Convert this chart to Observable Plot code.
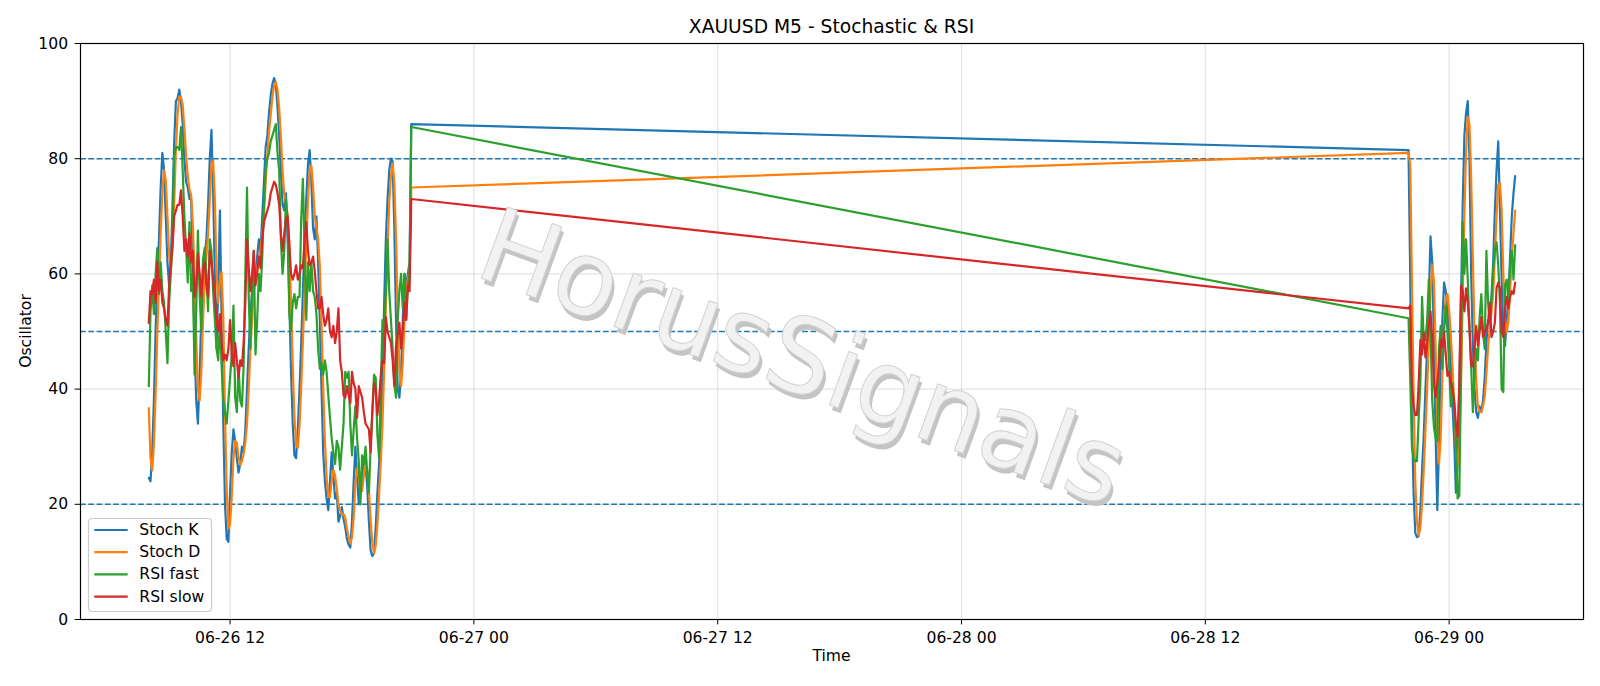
<!DOCTYPE html>
<html>
<head>
<meta charset="utf-8">
<script src="https://cdn.jsdelivr.net/npm/d3@7"></script>
<script src="https://cdn.jsdelivr.net/npm/@observablehq/plot@0.6"></script>
<style>
  html, body { margin: 0; padding: 0; background: #fff; }
  #chart { width: 1600px; height: 686px; }
</style>
</head>
<body>
<div id="chart"></div>
<script>
// ---------------- data ----------------
const sessionStarts = ["2020-06-26T08:00:00Z", "2020-06-28T22:00:00Z"];
const barMinutes = 5;

const stochK_fri = [24.6,24,29,38,50,60,66,75,81,78, 70,62,58,62,72,83,90,90.5,92,90,
 86,80,76,75,73,73,60,48,38,34, 42,53,60,63,66,72,80,85,74,60,
 47,58,71,52,34,20,14,13.5,22,29, 33,31,28,25.5,27,30,29,33,40,47,
 53,57,61,59,63,66,64,70,76,82, 84,88,91,93,94,93,89,84,78,72,
 71,74,66,55,43,34,28.5,28,33,40, 48,57,66,73,79,81.5,76,68,66,70,
 62,52,40,29,24,21,19,24,29,25, 21,22,17,18,19.5,17.5,16,14,13,12.5,
 17,24,30,25,20,22,25,28,27,23, 17,12,11,11.5,16,22,27,33,42,55,
 66,73,78,80,79.5,68,52,40,38.5,43, 52,60,58,60,62,86];
const stochD_fri = [36.7,28,25.9,30.3,39,49.3,58.7,67,74,78, 76.3,70,63.3,60.7,64,72.3,81.7,87.8,90.8,90.8,
 89.3,85.3,80.7,77,74.7,73.7,68.7,60.3,48.7,40, 38,43,51.7,58.7,63,67,72.7,79,79.7,73,
 60.3,55,58.7,60.3,52.3,35.3,22.7,15.8,16.5,21.5, 28,31,30.7,28.2,26.8,27.5,28.7,30.7,34,40,
 46.7,52.3,57,59,61,62.7,64.3,66.7,70,76, 80.7,84.7,87.7,90.7,92.7,93.3,92,88.7,83.7,78,
 73.7,72.3,70.3,65,54.7,44,35.2,30.2,29.8,33.7, 40.3,48.3,57,65.3,72.7,77.8,78.8,75.2,70,68,
 66,61.3,51.3,40.3,31,24.7,21.3,21.3,24,26, 25,22.7,20,19,18.2,18.3,17.7,15.8,14.3,13.2,
 14.2,17.8,23.7,26.3,25,22.3,22.3,25,26.7,26, 22.3,17.3,13.3,11.5,12.8,16.5,21.7,27.3,34,43.3,
 54.3,64.7,72.3,77,79.2,75.8,66.5,53.3,43.5,40.5, 44.5,51.7,56.7,59.3,60,75];
const rsiFast_fri = [40.5,53.5,58,53,60,64.5,56.5,62,57,55, 50,44.5,55,60,67,80.5,82,82,81.5,85.5,
 78,70,64.5,58.5,69,57,60,42.5,53.5,67.5, 56.5,50,62.5,64.5,60,53.5,66,64,57,52,
 47,45,52,44,38,36,34,38,42,46, 54.5,38.5,36,44,38,37,44,60,75,56,
 47,57,64,46,52,60,57,63,72,78, 80,81,83,84,85,86,81,78,66,60,
 64,73,69,53,50,55,56.5,54,56,56, 69.5,76.5,64,52,62,57,62,57,56,53,
 47,43.5,44.5,42.5,45,43,39,35,31.5,29, 27,31,30,26,30,34,43,42,43,34,
 28.5,33,37,31.5,27.5,20,28.5,27,30,25.5, 22,30,36,42.5,42,32,28,40,52,50,
 57,66,57,52,47,41,38.5,52,57,60, 54,60,52,58,60,85.5];
const rsiSlow_fri = [51.5,57,56.5,59,55,62,57,59,55,54, 52,51,58,62,65,70,71,72,72,74.5,
 70,64,66,63,67,62,64,56,58,63.5, 60,56,61,62,58,56,64,62,59,56,
 52,50,53,48,45,46,45,47,52,46, 44,48,45,42,45,44,48,55,66,61,
 57,60,64,58,60,63,61,66,69,70, 71,72,74,75,76,75.5,74,72,67,64,
 67,69.5,70,65,60,59,60,61.5,59,60, 61.5,61,66,69,64,61.5,62,63,60.5,57,
 54,54,56,53,51,52,54,50,49,51, 48,50,54,45,43,39,38.5,40.5,39,37.5,
 43,41,40,35,40.5,39.5,38.5,36,34,33.5, 33,29,36,41,40,35.5,38,42.5,45,44.5,
 52.5,50,49,48,45,40.5,47.5,49.5,51.5,47, 50,55,52,58,57,73];

const stochK_sun = [81.5,60,35,22,15,14.3,14.5,19,26,32, 40,47,56,66.5,62,48,32,19,30,45,
 52,58.5,57,54,50,44,37,31,22,27, 40,55,72,84,88,90,80,60,48,40,
 36,35,37,36,38,42,48,52,52,56, 62,71,78,83,71,59,50,47.5,52,56, 63,70,74,77];
const stochD_sun = [81,79,59,39,24,17,14.6,16,20,26, 33,40,48,56.5,61.5,58.8,47.3,33,27,31.3,
 42.3,51.8,55.8,56.5,53.7,49.3,43.7,37.3,30,26.7, 29.7,40.7,55.7,70.3,81.3,87.3,86,76.7,62.7,49.3,
 41.3,37,36,36,37,38.7,42.7,47.3,50.7,53.3, 56.7,63,70.3,75.5,75.7,71,60,52.2,49.8,51.8, 57,63,67,71];
const rsiFast_sun = [52.3,42,30,28,27.5,27.5,35,41,56,48.5, 48.5,52,59,50,38,33.5,31.5,31,47,51,
 43.5,50,54.5,50,44,37,41,36,31.5,21, 21.5,43.5,69,60,66,59,51,44,36,42.5,
 47,45,52.5,56.5,50,47,64,55,51.5,55, 60.5,64,65.5,61.5,55,40,39.5,58,59,55, 61.5,64,59,65];
const rsiSlow_sun = [54,54.5,41,37,35.5,35.5,41,48.5,46,49.8, 45.5,48,51,53.5,48.5,41,38.6,41,44,48.5,
 47.3,49.8,46,42.3,43,41,39.8,38,34,31.7, 41,58,57,53.5,57.5,55,50.5,44,44,47.5,
 51,47.5,50,52.5,49,50,50.5,51.5,55,49, 50,51.5,57.5,58.5,57.5,50,49,54,56,54, 56,57,56.5,58.5];

const seriesNames = ["Stoch K", "Stoch D", "RSI fast", "RSI slow"];
const seriesColors = ["#1f77b4", "#ff7f0e", "#2ca02c", "#d62728"];
const seriesValues = [
  [stochK_fri, stochK_sun],
  [stochD_fri, stochD_sun],
  [rsiFast_fri, rsiFast_sun],
  [rsiSlow_fri, rsiSlow_sun]
];
const xTickLabels = ["06-26 12", "06-27 00", "06-27 12", "06-28 00", "06-28 12", "06-29 00"];
const xTickTimes = ["2020-06-26T12:00:00Z","2020-06-27T00:00:00Z","2020-06-27T12:00:00Z",
                    "2020-06-28T00:00:00Z","2020-06-28T12:00:00Z","2020-06-29T00:00:00Z"];
const yTicks = [0, 20, 40, 60, 80, 100];
const levelLines = [80, 50, 20];
const chartTitle = "XAUUSD M5 - Stochastic & RSI";
const xLabel = "Time";
const yLabel = "Oscillator";
const watermark = "HorusSignals";

// ---------------- build rows ----------------
const rows = [];
seriesNames.forEach((name, si) => {
  seriesValues[si].forEach((vals, sess) => {
    const t0 = new Date(sessionStarts[sess]);
    vals.forEach((v, k) => rows.push({series: name, t: d3.utcMinute.offset(t0, k * barMinutes), v}));
  });
});
const [tMin, tMax] = d3.extent(rows, d => d.t);
const pad = (tMax - tMin) * 0.05;
const xDomain = [new Date(+tMin - pad), new Date(+tMax + pad)];
const xTicks = xTickTimes.map(s => new Date(s));
const tickLabelMap = new Map(xTicks.map((d, i) => [+d, xTickLabels[i]]));

const W = 1600, H = 686;
const mL = 80, mR = 17, mT = 43, mB = 67;
const FONT = "DejaVu Sans, sans-serif";

const marks = [
  Plot.gridX(xTicks, {stroke: "#b0b0b0", strokeOpacity: 0.35, strokeWidth: 1.2}),
  Plot.gridY(yTicks, {stroke: "#b0b0b0", strokeOpacity: 0.35, strokeWidth: 1.2}),
  Plot.ruleY(levelLines, {stroke: "#1f77b4", strokeWidth: 1.5, strokeDasharray: "5.8,2.5"})
];
seriesNames.forEach((name, si) => {
  marks.push(Plot.line(rows.filter(r => r.series === name), {
    x: "t", y: "v", stroke: seriesColors[si], strokeWidth: 2.2, strokeLinejoin: "round"
  }));
});
marks.push(
  Plot.frame({stroke: "#000", strokeWidth: 1.2}),
  Plot.axisX({ticks: xTicks, tickSize: 5.4, tickPadding: 7, tickFormat: d => tickLabelMap.get(+d), label: null, fontSize: 15.6, stroke: "#000"}),
  Plot.axisY({ticks: yTicks, tickSize: 5.4, tickPadding: 7, label: null, fontSize: 15.6, stroke: "#000"})
);

const chart = Plot.plot({
  width: W, height: H,
  marginLeft: mL, marginRight: mR, marginTop: mT, marginBottom: mB,
  style: {fontFamily: FONT, fontSize: "15.6px", background: "#fff", color: "#000", overflow: "visible"},
  x: {type: "utc", domain: xDomain},
  y: {domain: [0, 100]},
  marks
});

const svg = d3.select(chart);

// title & axis labels
svg.append("text").attr("x", (mL + W - mR) / 2).attr("y", 26.5)
  .attr("text-anchor", "middle").attr("dominant-baseline", "central")
  .attr("font-family", FONT).attr("font-size", 18.7).attr("fill", "#000").text(chartTitle);
svg.append("text").attr("x", (mL + W - mR) / 2).attr("y", 656)
  .attr("text-anchor", "middle").attr("dominant-baseline", "central")
  .attr("font-family", FONT).attr("font-size", 15.6).attr("fill", "#000").text(xLabel);
svg.append("text").attr("transform", `translate(25.5,${(mT + H - mB) / 2}) rotate(-90)`)
  .attr("text-anchor", "middle").attr("dominant-baseline", "central")
  .attr("font-family", FONT).attr("font-size", 15.6).attr("fill", "#000").text(yLabel);

// watermark
const wm = svg.append("g").attr("transform", "translate(803,357) rotate(20)")
  .attr("font-family", FONT).attr("font-size", 104).attr("text-anchor", "middle").attr("dominant-baseline", "central");
wm.append("text").attr("x", 4).attr("y", 4).attr("fill", "#c4c4c4").text(watermark);
wm.append("text").attr("fill", "#f2f2f2").attr("stroke", "#d2d2d2").attr("stroke-width", 1).text(watermark);

// legend
const lg = svg.append("g").attr("text-anchor", "start");
lg.append("rect").attr("x", 88.5).attr("y", 518.5).attr("width", 123).attr("height", 93)
  .attr("rx", 3.5).attr("fill", "#fff").attr("fill-opacity", 0.8).attr("stroke", "#cccccc").attr("stroke-width", 1.2);
seriesNames.forEach((name, i) => {
  const y = 530 + i * 22.2;
  lg.append("line").attr("x1", 94.3).attr("x2", 127.7).attr("y1", y).attr("y2", y)
    .attr("stroke", seriesColors[i]).attr("stroke-width", 2.2);
  lg.append("text").attr("x", 139.3).attr("y", y).attr("text-anchor", "start").attr("dominant-baseline", "central")
    .attr("font-family", FONT).attr("font-size", 15.6).attr("fill", "#000").text(name);
});

document.getElementById("chart").appendChild(chart);
</script>
</body>
</html>
